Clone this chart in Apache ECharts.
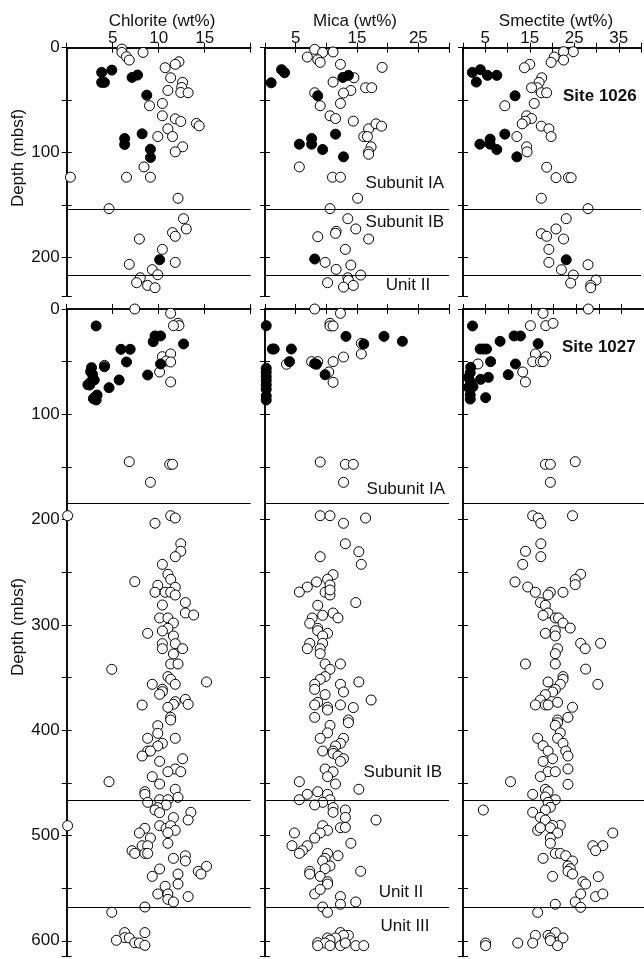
<!DOCTYPE html>
<html>
<head>
<meta charset="utf-8">
<script src="https://cdn.jsdelivr.net/npm/echarts@6/dist/echarts.min.js"></script>
<style>
  html, body { margin: 0; padding: 0; background: #fff; }
  #chart { width: 644px; height: 959px; }
</style>
</head>
<body>
<div id="chart"></div>
<script>
  // [wt%, depth mbsf] pairs, open = open circles, filled = black dots
  const chl1026Open = [[6.0,1.3],[6.0,4.5],[8.3,4.5],[6.5,8.6],[6.8,11.8],[12.2,13.4],[11.8,15.9],[10.7,19.1],[11.3,28.7],[12.6,33.1],[12.5,37.9],[11.0,40.8],[12.4,42.7],[13.2,43.0],[9.0,55.4],[10.4,53.2],[10.4,65],[11.8,67.9],[12.4,70.4],[14.1,72.3],[14.4,74.6],[11.0,77.4],[9.9,84.8],[11.5,84.8],[12.6,94.6],[11.8,99.4],[8.4,113.8],[0.4,123.6],[6.5,123.6],[9.1,123.6],[12.1,143.7],[4.6,153.6],[12.7,163.2],[13.0,173],[11.5,176.5],[11.8,180],[7.9,182.6],[10.4,192.5],[11.8,204.9],[6.8,206.8],[9.3,211.9],[9.9,216.7],[8.0,219.6],[7.6,224.3],[8.8,226.9],[9.6,229.1]];
  const chl1026Filled = [[3.8,23.6],[4.9,21.4],[3.8,33.1],[4.1,33.1],[7.1,28.4],[7.7,26.1],[8.7,45.3],[8.2,82.2],[6.3,86.7],[6.3,92.4],[9.1,96.9],[9.1,104.8],[10.1,202.4]];

  const mica1026Open = [[8.1,1.6],[9.4,4.5],[11.1,4.1],[6.9,8.9],[8.6,11.5],[9.0,14.0],[12.3,15.9],[19.1,18.8],[14.5,28.7],[11.1,32.8],[16.4,38.2],[17.4,38.2],[14.0,40.8],[12.8,43.3],[8.1,43],[12.3,53.2],[9.0,55.4],[10.6,65],[11.5,67.6],[14.4,70.1],[16.9,77.4],[18.1,72.7],[19.0,74.9],[16.1,84.8],[16.7,84.8],[17.3,94.6],[16.9,99.4],[16.9,101.7],[5.6,113.8],[11.0,123.6],[12.3,123.6],[15.1,143.7],[10.6,153.6],[13.5,163.2],[14.8,173],[11.6,175.3],[11.5,177.2],[8.6,180.4],[16.9,182.6],[13.1,192.5],[9.8,204.9],[14.0,207.5],[11.6,211.6],[15.6,217],[13.5,219.6],[13.6,222.1],[10.2,224.3],[12.8,228.5],[14.4,226.9]];
  const mica1026Filled = [[2.7,21],[3.2,23.9],[1.0,33.5],[12.7,28.4],[13.6,26.4],[8.6,45.9],[11.5,82.5],[7.6,86.7],[7.6,92.1],[5.6,92.1],[9.4,97.2],[12.8,104.2],[8.1,201.7]];

  const sme1026Open = [[22.6,3.8],[24.8,3.8],[22.6,11.8],[20.5,8.9],[19.8,14.0],[15.0,15.9],[13.8,19.1],[17.7,28.7],[17.1,33.1],[16.7,38.2],[15.4,38.2],[17.6,43],[18.8,43],[16.0,53.2],[9.4,55.4],[14.3,65],[15.4,67.6],[14.0,70.1],[13.3,72.7],[17.6,74.9],[19.3,77.4],[19.8,84.8],[12.1,84.8],[14.3,94.6],[14.4,99.4],[18.8,114.1],[20.9,124],[23.7,124],[24.3,124],[17.6,143.7],[28.1,153.6],[23.2,163.2],[20.9,173],[17.6,177.5],[18.8,180],[22.6,182.6],[19.3,192.5],[19.3,204.9],[28.1,207.1],[22.1,211.9],[24.8,217],[29.9,221.8],[24.2,224.7],[28.7,226.9],[28.7,229.1]];
  const sme1026Filled = [[2.1,23.6],[3.9,21],[3.0,32.8],[5.5,26.4],[7.6,26.4],[11.7,45.9],[9.4,82.5],[6.1,87.3],[3.8,92.1],[6.1,92.1],[7.6,97.2],[12.1,104.2],[23.2,202.4]];

  const chl1027Open = [[7.4,0],[11.3,4.1],[12.1,13.6],[12.2,15.8],[11.6,15.8],[10.4,45.3],[11.3,42.7],[10.8,49.4],[11.3,50.3],[4.1,53.5],[10.1,59.8],[11.3,69.3],[6.8,145],[11.2,147.5],[11.5,147.5],[9.1,164.6],
    [0.1,196.3],[11.3,196.3],[11.8,198.5],[9.6,203.5],[12.4,222.9],[12.4,230.1],[11.8,235.2],[10.4,242.5],[7.4,258.9],[11.0,251.9],[11.3,256.7],[9.9,262.4],[11.8,264.3],[9.6,269],[10.7,269],[11.3,269],[11.8,271.6],[10.4,281.1],[12.9,278.8],[12.9,288.7],[13.8,290.6],[10.1,293.4],[11.0,293.4],[11.6,298.2],[11.0,303.2],[8.8,308],[10.4,305.8],[11.6,310.5],[11.8,317.8],[10.4,317.8],[10.4,322.6],[12.6,322.6],[11.6,327.6],[11.3,337.1],[12.1,337.1],[4.9,342.2],[11.0,349.1],[11.3,351.7],[11.8,356.4],[15.2,354.2],[9.3,356.4],[10.4,361.2],[10.4,363.4],[10.1,365.9],[12.9,370.7],[13.2,375.4],[11.8,372.9],[11.6,375.4],[8.2,376.1],[11.0,378.3],[11.3,387.8],
    [11.3,390.3],[9.9,395.7],[9.9,403],[8.8,407.7],[11.8,407.7],[10.4,412.5],[9.9,415],[8.8,419.8],[9.1,419.8],[8.2,424.5],[12.6,427.1],[10.1,429.6],[11.8,436.8],[12.4,439.4],[11.0,439.4],[9.3,444.1],[4.6,448.9],[10.1,451.1],[11.8,456.1],[8.5,458.4],[8.5,460.9],[12.1,463.7],[8.8,468.5],[10.1,466],[11.0,466],[10.8,471],[9.9,473.5],[9.6,475.8],[10.1,478.3],[13.5,478],[11.6,483],[13.2,485.3],[0.1,490.7],[8.5,493.2],[10.1,490.7],[10.8,493.2],[11.3,490.7],[11.8,495.1],[11.0,497.3],[7.9,497.6],[9.1,502.4],[11.0,507.4],[8.2,509.7],[8.8,509.7],[7.1,514.4],[7.4,517],[8.5,517],[8.8,517],[11.6,521.7],[12.9,519.2],[12.9,524.2],[15.2,529.3],[14.3,534],[14.6,536.6],[10.1,531.8],[12.1,536.6],[9.3,538.8],[12.1,546.1],[10.7,548.2],[9.9,555.5],[11.0,555.5],[13.2,558],[11.0,560.6],[11.6,563.1],[8.5,567.9],[4.9,572.9],[8.5,592.2],[6.3,592.2],[6.3,597],[6.8,597.3],[5.4,599.5],[7.4,601.8],[7.9,602.1],[8.5,604.3]];
  const chl1027Filled = [[3.2,16.1],[9.4,31],[9.6,25.6],[10.2,25.6],[12.7,33.2],[5.9,38.3],[6.9,38.3],[6.5,50.3],[4.1,54.8],[2.7,55.7],[2.6,59.5],[2.8,62],[3.0,67.4],[2.5,72.2],[2.3,71.9],[2.6,69.3],[5.7,67.4],[4.6,74.7],[8.8,62.7],[10.2,52.2],[3.0,84.2],[3.3,81.7],[3.2,86.4],[2.9,85.2]];

  const mica1027Open = [[8.1,0],[12.3,4.1],[10.6,13.6],[10.6,16.1],[11.1,16.1],[15.7,32.6],[15.7,42.7],[12.8,45.6],[7.6,50],[8.6,50],[11.1,50],[3.5,52.5],[10.4,59.8],[11.1,69.6],[9.0,145.3],[13.1,147.5],[14.4,147.5],[12.8,164.6],
    [9.0,196.3],[10.6,196.3],[16.4,198.5],[12.8,203.5],[13.1,222.9],[15.3,230.5],[9.0,235.2],[15.7,242.5],[11.1,252.3],[10.2,256.7],[10.6,262.1],[8.4,259.2],[6.9,264],[5.6,268.8],[9.8,269],[10.6,271.6],[10.6,266.8],[14.8,278.8],[8.6,281.4],[11.1,288.7],[9.4,290.9],[11.9,293.4],[7.7,293.4],[7.3,298.5],[8.6,303.2],[8.6,305.5],[10.2,308],[9.4,310.5],[7.3,317.5],[9.4,317.5],[6.9,322.6],[9.0,322.6],[9.0,327.3],[9.8,337.1],[12.3,337.1],[10.6,342.2],[9.8,349.1],[9.0,351.7],[8.1,356.4],[12.3,356.4],[15.3,354.2],[8.1,361.2],[12.8,363.7],[9.8,366.2],[17.3,371.3],[8.6,373.5],[8.1,376],[10.2,378.2],[10.2,380.8],[12.3,376],[14.4,378.5],[8.1,387.8],[13.6,390.3],
    [10.6,395.4],[13.6,392.9],[10.2,402.5],[9.0,407.7],[12.8,407.7],[12.3,412.5],[11.5,415],[9.4,419.8],[11.1,419.8],[11.1,422],[11.9,424.5],[12.8,427.1],[12.3,429.6],[9.8,436.8],[11.1,439.4],[10.2,444.1],[5.6,448.9],[11.5,451.1],[15.3,456.1],[8.6,458.4],[6.9,460.9],[10.2,460.9],[5.6,466],[10.6,466],[9.4,468.5],[8.1,471],[11.1,473.5],[11.1,478],[13.1,475.8],[13.1,482.8],[18.1,485.3],[9.4,490.7],[12.3,492.6],[13.1,492.3],[10.2,495.1],[4.8,497.6],[9.0,497.6],[8.1,502.4],[14.0,507.4],[4.4,509.7],[6.9,509.7],[6.1,514.4],[5.6,517],[10.2,517],[9.8,521.7],[11.9,519.2],[9.4,524.2],[10.6,528.9],[9.8,531.5],[7.3,534],[7.3,536.6],[15.6,534],[9.0,538.8],[10.2,543.9],[10.2,546.1],[8.1,555.5],[9.0,551.2],[12.3,558],[12.3,565.3],[14.8,563.1],[9.4,567.9],[10.2,573],[12.3,592.2],[13.6,594.8],[12.8,594.8],[10.2,597.3],[11.5,597.3],[10.6,599.3],[8.6,601.8],[9.8,602.1],[8.6,604.6],[10.6,604.6],[12.3,604.6],[13.1,602.1],[14.8,604.6],[16.1,604.6]];
  const mica1027Filled = [[0.2,15.8],[1.2,38],[1.5,38],[4.3,38],[4.0,50],[8.1,51.9],[8.4,52.5],[9.8,62.4],[13.2,26],[16.1,33.2],[19.4,26],[22.4,30.7],[0.2,56.3],[0.2,60.1],[0.2,64.2],[0.2,68],[0.2,72.1],[0.2,76.3],[0.2,82.6],[0.2,86.4]];

  const sme1027Open = [[27.7,0],[17.7,4.1],[14.9,15.8],[18.3,15.8],[19.9,13.6],[16.0,42.7],[18.3,45.3],[15.4,50],[17.1,50],[17.7,50],[3.3,52.2],[13.2,59.8],[13.8,69.3],[18.2,147.5],[19.3,147.5],[24.8,145],[19.3,164.6],
    [15.4,196.3],[16.6,198.5],[17.2,203.5],[24.2,196.3],[17.2,222.9],[13.8,230.1],[17.2,235.2],[13.2,242.5],[26.0,251.9],[24.8,256.9],[24.8,261.8],[11.5,259.2],[14.3,264],[16.0,269],[19.3,269],[18.8,271.6],[22.1,269],[17.1,278.8],[18.2,281.4],[18.8,288.7],[17.7,290.9],[20.4,293.4],[21.1,293.4],[22.1,298.2],[23.7,303],[20.4,305.5],[20.4,310.5],[18.2,308],[26.0,317.5],[27.0,322.6],[30.4,317.5],[20.9,322.6],[20.4,327.3],[13.8,337.1],[20.4,337.1],[27.1,342],[22.1,349.1],[22.1,351.7],[21.5,356.4],[29.8,356.4],[18.8,354.2],[20.4,361.2],[19.8,363.7],[18.2,366.2],[20.9,373.5],[17.1,371.3],[16.0,376],[18.2,376],[18.8,376],[24.2,378.2],[23.2,387.8],[20.9,390.3],
    [20.9,392.9],[20.4,395.4],[21.5,402.5],[16.5,407.7],[20.9,407.7],[22.1,412.5],[17.7,414.7],[18.8,419.8],[22.7,419.8],[23.2,424.5],[19.8,427.1],[17.7,429.6],[23.2,436.8],[18.8,439.4],[20.4,439.4],[17.1,444.1],[10.5,448.9],[23.2,451.4],[18.2,456.1],[18.8,458.4],[15.4,460.9],[18.2,463.4],[20.4,466],[18.8,468.5],[19.3,473.2],[4.5,475.8],[15.4,478],[18.2,475.8],[17.1,482.8],[18.2,485.3],[21.5,490.4],[19.8,490.4],[16.5,495.1],[17.1,492.6],[19.3,492.6],[20.9,497.6],[33.1,497.6],[19.3,502.4],[19.3,507.4],[28.7,509.7],[30.9,509.7],[29.3,514.4],[20.4,517],[21.5,517],[22.7,519.2],[17.7,521.7],[24.2,524.2],[23.2,528.9],[23.7,531.5],[23.2,534],[24.2,536.6],[19.8,538.8],[29.9,539.1],[26.5,543.9],[27.1,546.1],[26.0,555.5],[29.3,558],[30.9,555.5],[24.8,563.1],[20.4,565.3],[26.0,568.2],[16.5,573],[16.0,594.8],[18.8,594.8],[20.4,592.2],[22.1,597.3],[19.3,597.3],[19.3,599.8],[15.4,602.1],[12.1,602.1],[20.9,604.6],[5.0,602.1],[5.0,604.6]];
  const sme1027Filled = [[2.1,16.1],[3.8,38],[4.5,38],[5.2,38],[8.2,30.7],[11.3,25.6],[12.7,25.6],[16.6,32.9],[6.1,50],[11.6,52.2],[10.0,62.4],[5.0,84.2],[1.7,55.4],[1.6,60.5],[1.2,64.9],[1.7,69.3],[1.2,74.4],[2.2,73.8],[1.6,81.7],[1.6,85.5],[3.9,66.8],[5.6,64.9]];

  // unit boundaries (mbsf)
  const bounds1026 = [154, 217.5];
  const bounds1027 = [184.5, 466.3, 568.5];

  // x-axis ranges and labelled ticks
  const chlRange = [0, 20], chlLabels = [5, 10, 15];
  const micaRange = [0, 30], micaLabels = [5, 15, 25];
  const smeRange = [0, 40], smeLabels = [5, 15, 25, 35];
  const depthMax1026 = 237, depthMax1027 = 615;

  const FONT = '"Liberation Sans", Arial, sans-serif';
  const FS = 17;
  const chart = echarts.init(document.getElementById('chart'));

  const lefts = [66.7, 265, 463];
  const rows = [
    { top: 47.7, height: 248.3, yMax: depthMax1026, bounds: bounds1026 },
    { top: 309, height: 647.6, yMax: depthMax1027, bounds: bounds1027 }
  ];
  const cols = [
    { range: chlRange, labels: chlLabels },
    { range: micaRange, labels: micaLabels },
    { range: smeRange, labels: smeLabels }
  ];
  const dataSets = [
    [[chl1026Open, chl1026Filled], [mica1026Open, mica1026Filled], [sme1026Open, sme1026Filled]],
    [[chl1027Open, chl1027Filled], [mica1027Open, mica1027Filled], [sme1027Open, sme1027Filled]]
  ];

  const grid = [], xAxis = [], yAxis = [], series = [];
  const axisLine = { show: true, lineStyle: { color: '#000', width: 1.5 } };
  const axisTick = { show: true, inside: true, length: 5, lineStyle: { color: '#000', width: 1 } };

  rows.forEach((row, r) => {
    cols.forEach((col, c) => {
      const g = grid.length;
      grid.push({ left: lefts[c], top: row.top, width: 184, height: row.height });
      const xBase = {
        type: 'value', gridIndex: g, min: col.range[0], max: col.range[1], interval: 5,
        axisLine, axisTick, splitLine: { show: false }
      };
      xAxis.push(Object.assign({}, xBase, {
        position: 'top',
        axisLabel: {
          show: r === 0, margin: 1, fontSize: FS, fontFamily: FONT, color: '#111',
          formatter: v => col.labels.includes(v) ? String(v) : ''
        }
      }));
      xAxis.push(Object.assign({}, xBase, { position: 'bottom', axisLabel: { show: false } }));
      const yBase = {
        type: 'value', gridIndex: g, min: 0, max: row.yMax, interval: 50, inverse: true,
        axisLine, axisTick, splitLine: { show: false }
      };
      yAxis.push(Object.assign({}, yBase, {
        position: 'left',
        axisLabel: {
          show: c === 0, margin: 7, fontSize: FS, fontFamily: FONT, color: '#111',
          formatter: v => v % 100 === 0 ? String(v) : ''
        }
      }));
      yAxis.push(Object.assign({}, yBase, { position: 'right', axisLabel: { show: false } }));

      const [openData, filledData] = dataSets[r][c];
      series.push({
        type: 'scatter', xAxisIndex: 2 * g, yAxisIndex: 2 * g, data: openData,
        symbol: 'circle', symbolSize: 10, clip: false,
        itemStyle: { color: '#fff', borderColor: '#000', borderWidth: 1, opacity: 1 },
        markLine: {
          silent: true, symbol: 'none', label: { show: false },
          lineStyle: { color: '#000', width: 1, type: 'solid' },
          data: row.bounds.map(b => ({ yAxis: b }))
        }
      });
      series.push({
        type: 'scatter', xAxisIndex: 2 * g, yAxisIndex: 2 * g, data: filledData,
        symbol: 'circle', symbolSize: 10, clip: false,
        itemStyle: { color: '#000', borderColor: '#000', borderWidth: 1, opacity: 1 }
      });
    });
  });

  const txt = (text, x, y, align, opts, weight) => Object.assign({
    type: 'text', x, y,
    style: {
      text, fill: '#111', fontSize: FS, fontFamily: FONT, fontWeight: weight || 'normal',
      align, verticalAlign: 'middle'
    }
  }, opts || {});

  const graphic = [
    txt('Chlorite (wt%)', 162, 21, 'center'),
    txt('Mica (wt%)', 355, 21, 'center'),
    txt('Smectite (wt%)', 556, 21, 'center'),
    txt('Depth (mbsf)', 18, 158, 'center', { rotation: Math.PI / 2 }),
    txt('Depth (mbsf)', 18, 627, 'center', { rotation: Math.PI / 2 }),
    txt('Subunit IA', 444, 183, 'right'),
    txt('Subunit IB', 444, 222, 'right'),
    txt('Unit II', 408, 285, 'center'),
    txt('Subunit IA', 445, 489, 'right'),
    txt('Subunit IB', 442, 772, 'right'),
    txt('Unit II', 401, 892, 'center'),
    txt('Unit III', 405, 926, 'center'),
    txt('Site 1026', 563, 96, 'left', null, 'bold'),
    txt('Site 1027', 562, 347, 'left', null, 'bold')
  ];

  chart.setOption({
    animation: false,
    backgroundColor: '#fff',
    grid, xAxis, yAxis, series, graphic
  });
</script>
</body>
</html>
